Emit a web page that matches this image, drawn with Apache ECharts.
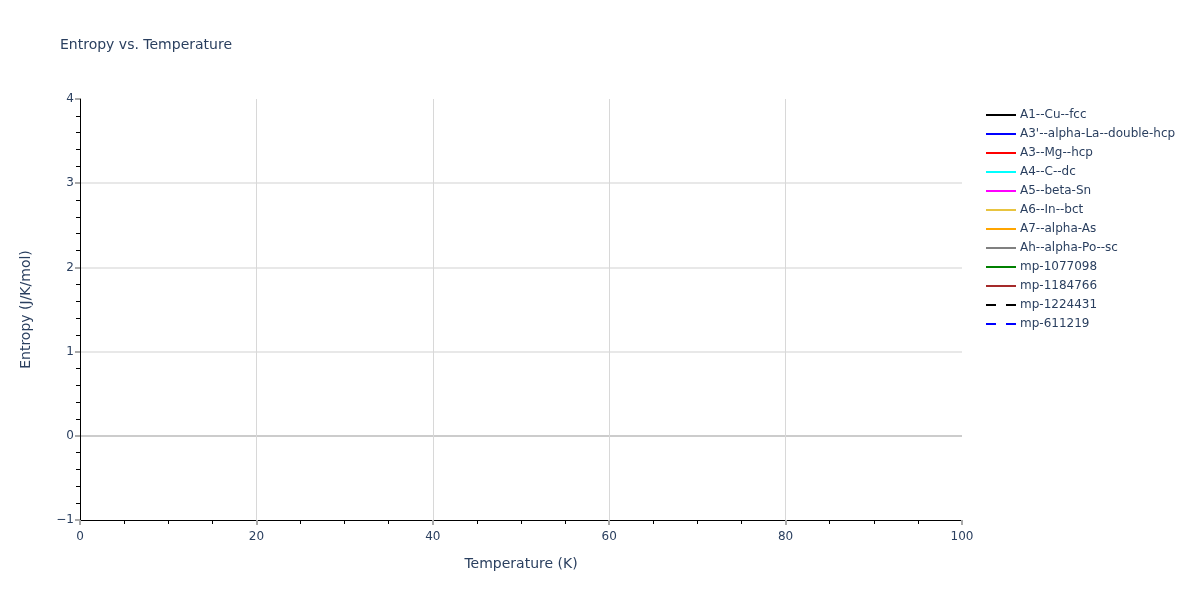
<!DOCTYPE html>
<html>
<head>
<meta charset="utf-8">
<script src="https://cdn.jsdelivr.net/npm/echarts@6/dist/echarts.min.js"></script>
<style>html,body{margin:0;padding:0;background:#fff;}#c{width:1200px;height:600px;}</style>
</head>
<body>
<div id="c"></div>
<script>
// Series names (no data points visible in the reference plot)
const seriesNames = ["A1--Cu--fcc","A3'--alpha-La--double-hcp","A3--Mg--hcp","A4--C--dc","A5--beta-Sn","A6--In--bct","A7--alpha-As","Ah--alpha-Po--sc","mp-1077098","mp-1184766","mp-1224431","mp-611219"];
const seriesColors = ["#000000","#0000ff","#ff0000","#00ffff","#ff00ff","#e8c440","#ffa500","#808080","#008000","#a52a2a","#000000","#0000ff"];
const seriesDash = ["solid","solid","solid","solid","solid","solid","solid","solid","solid","solid","dashed","dashed"];
const seriesData = [[],[],[],[],[],[],[],[],[],[],[],[]];
const xTicks = [0,20,40,60,80,100];
const yTicks = [-1,0,1,2,3,4];

const font = "'DejaVu Sans', Verdana, sans-serif";
const txt = "#2a3f5f";
const fmt = v => String(v).replace('-', '\u2212');
const chart = echarts.init(document.getElementById('c'));
chart.setOption({
  animation: false,
  backgroundColor: '#fff',
  title: {text: 'Entropy vs. Temperature', left: 55, top: 33, textStyle: {fontFamily: font, fontSize: 14, fontWeight: 'normal', color: txt}},
  grid: {left: 80, right: 238, top: 99, bottom: 80},
  legend: {
    orient: 'vertical', left: 981, top: 104, itemWidth: 30, itemHeight: 2, itemGap: 7,
    textStyle: {fontFamily: font, fontSize: 12, color: txt, padding: [0,0,0,-1]},
    data: seriesNames.map((n,i)=>({name:n, icon: seriesDash[i]==='dashed' ? 'path://M0,0 H10 V2 H0 Z M20,0 H30 V2 H20 Z' : 'path://M0,0 H30 V2 H0 Z'}))
  },
  xAxis: {
    type: 'value', min: xTicks[0], max: xTicks[xTicks.length-1], interval: 20,
    name: 'Temperature (K)', nameLocation: 'middle', nameGap: 37,
    nameTextStyle: {fontFamily: font, fontSize: 14, color: txt},
    axisLine: {show: true, onZero: false, lineStyle: {color: '#000', width: 1}},
    axisTick: {show: true, length: 5, lineStyle: {color: '#aaa', width: 2}},
    minorTick: {show: true, splitNumber: 4, length: 4, lineStyle: {color: '#000'}},
    axisLabel: {fontFamily: font, fontSize: 12, color: txt, margin: 11, formatter: fmt},
    splitLine: {show: true, lineStyle: {color: ['transparent','#d8d8d8','#d8d8d8','#d8d8d8','#d8d8d8','transparent'], width: 1}}
  },
  yAxis: {
    type: 'value', min: yTicks[0], max: yTicks[yTicks.length-1], interval: 1,
    name: 'Entropy (J/K/mol)', nameLocation: 'middle', nameGap: 47,
    nameTextStyle: {fontFamily: font, fontSize: 14, color: txt},
    axisLine: {show: true, onZero: false, lineStyle: {color: '#000', width: 1}},
    axisTick: {show: true, length: 5, lineStyle: {color: '#aaa', width: 2}},
    minorTick: {show: true, splitNumber: 5, length: 4, lineStyle: {color: '#000'}},
    axisLabel: {fontFamily: font, fontSize: 12, color: txt, margin: 6, formatter: fmt},
    splitLine: {show: true, lineStyle: {color: ['transparent','#cccccc','#e8e8e8','#e8e8e8','#e8e8e8','transparent'], width: 2}}
  },
  series: seriesNames.map((n,i)=>({
    name: n, type: 'line', data: seriesData[i], showSymbol: false,
    itemStyle: {color: seriesColors[i]},
    lineStyle: {color: seriesColors[i], width: 2, type: seriesDash[i]}
  }))
});
</script>
</body>
</html>
